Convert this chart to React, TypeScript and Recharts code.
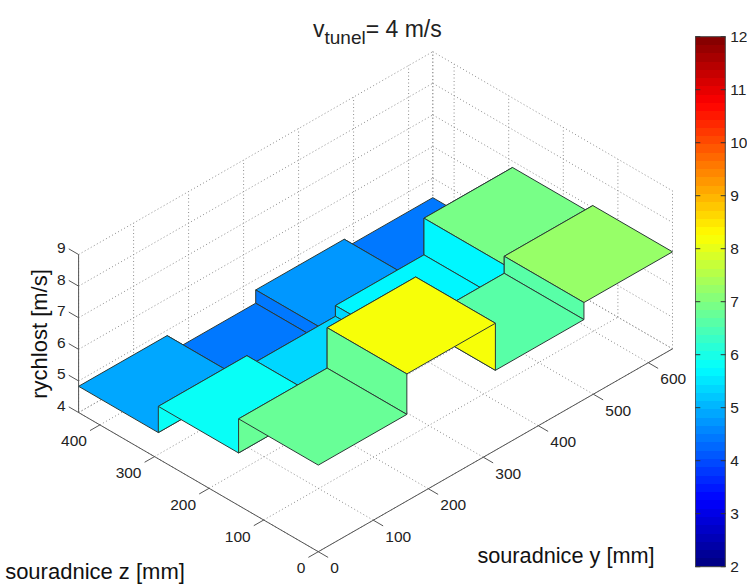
import { Bar, BarChart, Scatter, ScatterChart, XAxis, YAxis } from "recharts";

// cell edges of the stepped surface, in mm
const yEdges = [0, 161, 322, 483, 644];
const zEdges = [0, 146, 293, 439];

// measured speed per cell, one list per z band, ordered by y
const speedZ0 = [6.74, 8.02, 6.53, 7.07];
const speedZ1 = [5.66, 5.3, 5.64, 6.8];
const speedZ2 = [4.83, 4.25, 4.67, 4.38];
const speedRows = [speedZ0, speedZ1, speedZ2];

const yTicks = [0, 100, 200, 300, 400, 500, 600];
const zTicks = [0, 100, 200, 300, 400];
const speedTicks = [4, 5, 6, 7, 8, 9];
const colorbarTicks = [2, 3, 4, 5, 6, 7, 8, 9, 10, 11, 12];

const Y_MAX = 644;
const Z_MAX = 439;
const V_MIN = 4;
const V_MAX = 9;
const FONT = "'Liberation Sans', Arial, sans-serif";

type Pt = { px: number; py: number; text?: string };

// fixed 3d view, maps (y, z, speed) into the chart's x/y data space
function project(y: number, z: number, v: number): Pt {
  return {
    px: 318.3 + y * 0.55 - z * 0.546,
    py: 551.7 - y * 0.315 - z * 0.317 - (v - V_MIN) * 31.6,
  };
}

// matlab jet colormap
function jet(t: number) {
  const ch = (c: number) => Math.round(255 * Math.max(0, Math.min(1, 1.5 - Math.abs(4 * t - c))));
  return `rgb(${ch(3)},${ch(2)},${ch(1)})`;
}
// colours in the picture sit about 0.1 above the height
const speedColor = (v: number) => jet((Math.floor(((v + 0.1 - 2) / 10) * 64) + 0.5) / 64);

type Face = { key: string; points: Pt[]; fill: string };

function buildFaces() {
  const faces: Face[] = [];
  for (let i = speedRows.length - 1; i >= 0; i--) {
    for (let j = yEdges.length - 2; j >= 0; j--) {
      const v = speedRows[i][j];
      const [y0, y1] = [yEdges[j], yEdges[j + 1]];
      const [z0, z1] = [zEdges[i], zEdges[i + 1]];
      faces.push({
        key: `top-${i}-${j}`,
        fill: speedColor(v),
        points: [project(y0, z0, v), project(y1, z0, v), project(y1, z1, v), project(y0, z1, v)],
      });
      // step towards the lower y neighbour, coloured from that neighbour
      if (j > 0) {
        const other = speedRows[i][j - 1];
        faces.push({
          key: `wy-${i}-${j}`,
          fill: speedColor(other),
          points: [project(y0, z0, v), project(y0, z1, v), project(y0, z1, other), project(y0, z0, other)],
        });
      }
      // step towards the lower z neighbour
      if (i > 0) {
        const other = speedRows[i - 1][j];
        faces.push({
          key: `wz-${i}-${j}`,
          fill: speedColor(other),
          points: [project(y0, z0, v), project(y1, z0, v), project(y1, z0, other), project(y0, z0, other)],
        });
      }
    }
  }
  return faces;
}

type Segment = { key: string; points: Pt[] };

function buildGrid() {
  const out: Segment[] = [];
  const add = (key: string, a: Pt, b: Pt) => out.push({ key, points: [a, b] });
  [...yTicks, Y_MAX].forEach((y) => {
    add(`fy${y}`, project(y, 0, V_MIN), project(y, Z_MAX, V_MIN));
    add(`wy${y}`, project(y, Z_MAX, V_MIN), project(y, Z_MAX, V_MAX));
  });
  [...zTicks, Z_MAX].forEach((z) => {
    add(`fz${z}`, project(0, z, V_MIN), project(Y_MAX, z, V_MIN));
    add(`wz${z}`, project(Y_MAX, z, V_MIN), project(Y_MAX, z, V_MAX));
  });
  speedTicks.forEach((v) => {
    add(`ha${v}`, project(0, Z_MAX, v), project(Y_MAX, Z_MAX, v));
    add(`hb${v}`, project(Y_MAX, Z_MAX, v), project(Y_MAX, 0, v));
  });
  return out;
}

function buildAxes() {
  const out: Segment[] = [
    { key: "axis-y", points: [project(0, 0, V_MIN), project(Y_MAX, 0, V_MIN)] },
    { key: "axis-z", points: [project(0, 0, V_MIN), project(0, Z_MAX, V_MIN)] },
    { key: "axis-v", points: [project(0, Z_MAX, V_MIN), project(0, Z_MAX, V_MAX)] },
  ];
  yTicks.forEach((y) => out.push({ key: `ty${y}`, points: [project(y, 0, V_MIN), project(y, -18, V_MIN)] }));
  zTicks.forEach((z) => out.push({ key: `tz${z}`, points: [project(0, z, V_MIN), project(-18, z, V_MIN)] }));
  speedTicks.forEach((v) =>
    out.push({ key: `tv${v}`, points: [project(0, Z_MAX, v), project(0, Z_MAX + 18, v)] }),
  );
  return out;
}

const shift = (p: Pt, dx: number, dy: number, text: string): Pt => ({ px: p.px + dx, py: p.py + dy, text });

const yLabels = yTicks.map((y) => shift(project(y, 0, V_MIN), 12, 16, String(y)));
const zLabels = zTicks.map((z) => shift(project(0, z, V_MIN), -13, 16, String(z)));
const speedLabels = speedTicks.map((v) => shift(project(0, Z_MAX, v), -13, -7, String(v)));

const noDot = () => null;

function pathOf(points: { x: number; y: number }[], close: boolean) {
  return points.map((p, i) => `${i ? "L" : "M"}${p.x} ${p.y}`).join(" ") + (close ? " Z" : "");
}

function labelShape(anchor: "start" | "end" | "middle") {
  return (props: any) => (
    <text
      x={props.cx}
      y={props.cy}
      textAnchor={anchor}
      dominantBaseline="central"
      fontFamily={FONT}
      fontSize={15.5}
      fill="#222"
    >
      {props.payload.text}
    </text>
  );
}

const colorLevels = Array.from({ length: 64 }, (_, i) => jet((i + 0.5) / 64));
const colorbarData = [{ name: "speed", top: 12 }];

function ColorbarTick(props: any) {
  const { x, y, payload } = props;
  return (
    <g>
      <line x1={0.3} x2={5.3} y1={y} y2={y} stroke="#333" />
      <line x1={x - 5} x2={x} y1={y} y2={y} stroke="#333" />
      <text x={x + 4.5} y={y} dominantBaseline="central" fontFamily={FONT} fontSize={15.5} fill="#222">
        {payload.value}
      </text>
    </g>
  );
}

export default function App() {
  const grid = buildGrid();
  const faces = buildFaces();
  const axes = buildAxes();

  return (
    <div
      style={{ position: "absolute", left: 0, top: 0, width: 747, height: 585, background: "#fff", overflow: "hidden" }}
    >
      <ScatterChart width={747} height={585} margin={{ top: 0, right: 0, bottom: 0, left: 0 }}>
        <XAxis type="number" dataKey="px" domain={[0, 747]} hide />
        <YAxis type="number" dataKey="py" domain={[0, 585]} reversed hide />

        {grid.map((s) => (
          <Scatter
            key={s.key}
            data={s.points}
            isAnimationActive={false}
            shape={noDot}
            line={(p: any) => (
              <path d={pathOf(p.points, false)} fill="none" stroke="#8c8c8c" strokeWidth={1} strokeDasharray="1 2.5" />
            )}
          />
        ))}
        {axes.map((s) => (
          <Scatter
            key={s.key}
            data={s.points}
            isAnimationActive={false}
            shape={noDot}
            line={(p: any) => <path d={pathOf(p.points, false)} fill="none" stroke="#555" strokeWidth={1} />}
          />
        ))}
        {faces.map((f) => (
          <Scatter
            key={f.key}
            data={f.points}
            isAnimationActive={false}
            shape={noDot}
            line={(p: any) => (
              <path d={pathOf(p.points, true)} fill={f.fill} stroke="#2b3a36" strokeWidth={1} strokeLinejoin="round" />
            )}
          />
        ))}

        <Scatter data={yLabels} isAnimationActive={false} shape={labelShape("start")} />
        <Scatter data={zLabels} isAnimationActive={false} shape={labelShape("end")} />
        <Scatter data={speedLabels} isAnimationActive={false} shape={labelShape("end")} />

        <text x={313} y={37} fontFamily={FONT} fontSize={23} fill="#222">
          v<tspan dy={7} fontSize={19}>tunel</tspan>
          <tspan dy={-7}>= 4 m/s</tspan>
        </text>
        <text x={566} y={563} textAnchor="middle" fontFamily={FONT} fontSize={21.7} fill="#111">
          souradnice y [mm]
        </text>
        <text x={95} y={579} textAnchor="middle" fontFamily={FONT} fontSize={22} fill="#111">
          souradnice z [mm]
        </text>
        <text
          x={47}
          y={334}
          textAnchor="middle"
          transform="rotate(-90 47 334)"
          fontFamily={FONT}
          fontSize={22}
          fill="#111"
        >
          rychlost [m/s]
        </text>
      </ScatterChart>

      <div style={{ position: "absolute", left: 695, top: 0 }}>
        <BarChart
          width={60}
          height={585}
          data={colorbarData}
          barCategoryGap={0}
          margin={{ top: 36.7, right: 0, bottom: 18.3, left: 0.3 }}
        >
          <defs>
            <linearGradient id="jetSteps" x1="0" y1="1" x2="0" y2="0">
              {colorLevels.flatMap((c, i) => [
                <stop key={`${i}a`} offset={i / 64} stopColor={c} />,
                <stop key={`${i}b`} offset={(i + 1) / 64} stopColor={c} />,
              ])}
            </linearGradient>
          </defs>
          <XAxis dataKey="name" hide />
          <YAxis
            orientation="right"
            type="number"
            domain={[2, 12]}
            ticks={colorbarTicks}
            width={29.3}
            axisLine={false}
            tickLine={false}
            tickSize={0}
            tickMargin={0}
            interval={0}
            tick={<ColorbarTick />}
          />
          <Bar dataKey="top" fill="url(#jetSteps)" stroke="#444" strokeWidth={1} isAnimationActive={false} />
        </BarChart>
      </div>
    </div>
  );
}
